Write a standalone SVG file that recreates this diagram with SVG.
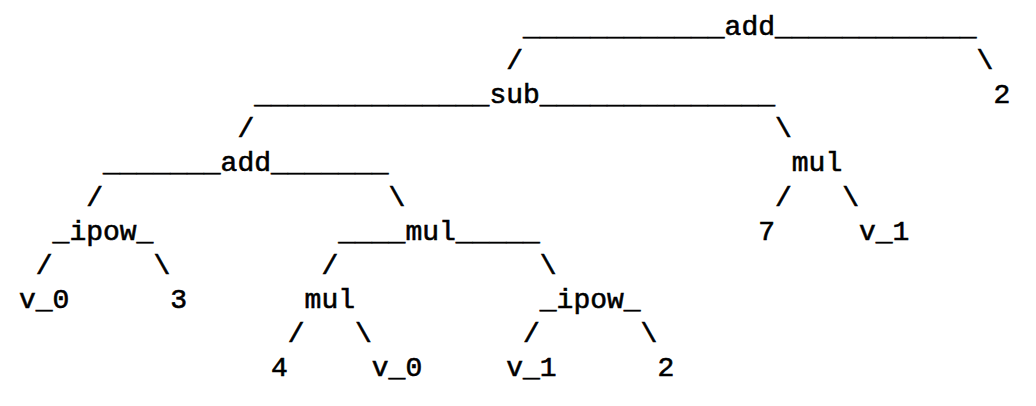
<svg xmlns="http://www.w3.org/2000/svg" width="1036" height="406" viewBox="0 0 1036 406">
<style>
text{font-family:"Liberation Mono","DejaVu Sans Mono",monospace;font-size:28px;font-weight:normal;fill:#000;stroke:#000;stroke-width:0.6px;white-space:pre}
</style>
<rect width="1036" height="406" fill="#fff"/>
<g id="connectors">
<text x="523" y="35">____________</text>
<text x="775" y="35">____________</text>
<text x="506.2" y="69.1">/</text>
<text x="976.6" y="69.1">\</text>
<text x="254.2" y="103.2">______________</text>
<text x="539.8" y="103.2">______________</text>
<text x="237.4" y="137.3">/</text>
<text x="775" y="137.3">\</text>
<text x="103" y="171.4">_______</text>
<text x="271" y="171.4">_______</text>
<text x="86.2" y="205.5">/</text>
<text x="388.6" y="205.5">\</text>
<text x="775" y="205.5">/</text>
<text x="842.2" y="205.5">\</text>
<text x="52.6" y="239.6">_</text>
<text x="136.6" y="239.6">_</text>
<text x="338.2" y="239.6">____</text>
<text x="455.8" y="239.6">_____</text>
<text x="35.8" y="273.7">/</text>
<text x="153.4" y="273.7">\</text>
<text x="321.4" y="273.7">/</text>
<text x="539.8" y="273.7">\</text>
<text x="539.8" y="307.8">_</text>
<text x="623.8" y="307.8">_</text>
<text x="287.8" y="341.9">/</text>
<text x="355" y="341.9">\</text>
<text x="523" y="341.9">/</text>
<text x="640.6" y="341.9">\</text>
</g>
<g id="n_add_root"><text x="724.6" y="35">add</text></g>
<g id="n_sub"><text x="489.4" y="103.2">sub</text></g>
<g id="n_2_top"><text x="993.4" y="103.2">2</text></g>
<g id="n_add"><text x="220.6" y="171.4">add</text></g>
<g id="n_mul_right"><text x="791.8" y="171.4">mul</text></g>
<g id="n_ipow_left"><text x="69.4" y="239.6">ipow</text></g>
<g id="n_mul_mid"><text x="405.4" y="239.6">mul</text></g>
<g id="n_7"><text x="758.2" y="239.6">7</text></g>
<g id="n_v1_right"><text x="859" y="239.6">v_1</text></g>
<g id="n_v0_left"><text x="19" y="307.8">v_0</text></g>
<g id="n_3"><text x="170.2" y="307.8">3</text></g>
<g id="n_mul_low"><text x="304.6" y="307.8">mul</text></g>
<g id="n_ipow_low"><text x="556.6" y="307.8">ipow</text></g>
<g id="n_4"><text x="271" y="376">4</text></g>
<g id="n_v0_low"><text x="371.8" y="376">v_0</text></g>
<g id="n_v1_low"><text x="506.2" y="376">v_1</text></g>
<g id="n_2_low"><text x="657.4" y="376">2</text></g>
</svg>
